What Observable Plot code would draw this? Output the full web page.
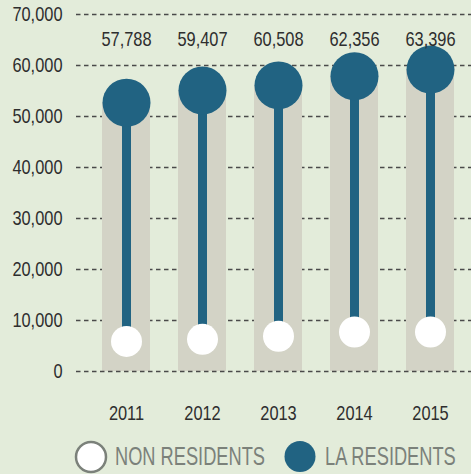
<!DOCTYPE html>
<html>
<head>
<meta charset="utf-8">
<script src="https://cdn.jsdelivr.net/npm/d3@7"></script>
<script src="https://cdn.jsdelivr.net/npm/@observablehq/plot@0.6"></script>
<style>
  html, body { margin: 0; padding: 0; background: #e3ecda; }
  body { width: 471px; height: 474px; overflow: hidden; font-family: "Liberation Sans", sans-serif; }
  svg { display: block; }
</style>
</head>
<body>
<div id="chart"></div>
<svg id="legend" width="471" height="44">
  <circle cx="91" cy="27" r="15" fill="#fff" stroke="#7b817a" stroke-width="2.5"/>
  <text transform="translate(115,35) scale(0.73,1)" fill="#7b817a" font-size="25" font-family="Liberation Sans">NON RESIDENTS</text>
  <circle cx="300" cy="26.5" r="15.5" fill="#216382"/>
  <text transform="translate(325,35) scale(0.73,1)" fill="#7b817a" font-size="25" font-family="Liberation Sans">LA RESIDENTS</text>
</svg>
<script>
const years = ["2011", "2012", "2013", "2014", "2015"];
const totals = [57788, 59407, 60508, 62356, 63396];
const laResidents = [52700, 55100, 56100, 57900, 59200];
const nonResidents = [5900, 6300, 6900, 7750, 7750];
const yTicks = [0, 10000, 20000, 30000, 40000, 50000, 60000, 70000];

const data = years.map((y, i) => ({year: y, total: totals[i], la: laResidents[i], non: nonResidents[i]}));
const fmt = d3.format(",");
const font = "'Liberation Sans', sans-serif";

const chart = Plot.plot({
  width: 471,
  height: 430,
  marginLeft: 76,
  marginRight: 0,
  marginTop: 14,
  marginBottom: 59,
  style: {background: "#e3ecda", fontFamily: font, fontSize: "20px", color: "#2e2e2e"},
  x: {domain: years, range: [88, 468], paddingInner: 0.37, paddingOuter: 0.185, label: null},
  y: {domain: [0, 70000], label: null},
  marks: [
    Plot.ruleY(yTicks.filter(d => d > 0), {stroke: "#4a4a4a", strokeWidth: 1.4, strokeDasharray: "4.5,3.5"}),
    Plot.barY(data, {x: "year", y: "la", fill: "#d3d3c6"}),
    Plot.ruleY([0], {stroke: "#4a4a4a", strokeWidth: 1.4, strokeDasharray: "4.5,3.5"}),
    Plot.ruleX(data, {x: "year", y1: "non", y2: "la", stroke: "#216382", strokeWidth: 9}),
    Plot.dot(data, {x: "year", y: "la", r: 24, fill: "#216382"}),
    Plot.dot(data, {x: "year", y: "non", r: 15.5, fill: "#ffffff"}),
    Plot.text(data, {x: "year", text: d => fmt(d.total), frameAnchor: "top", dy: 17, fill: "#2e2e2e", fontSize: 20}),
    Plot.axisY({ticks: yTicks, tickFormat: fmt, tickSize: 0, tickPadding: 14, fontSize: 20, fill: "#2e2e2e"}),
    Plot.axisX({tickSize: 0, tickPadding: 34, fontSize: 20, fill: "#2e2e2e"})
  ]
});
// condense the text horizontally around its anchor point (Plot positions text via transform)
chart.querySelectorAll("text").forEach(el => {
  const t = el.getAttribute("transform") || "";
  el.setAttribute("transform", (t + " scale(0.82,1)").trim());
});
document.getElementById("chart").appendChild(chart);
</script>
</body>
</html>
